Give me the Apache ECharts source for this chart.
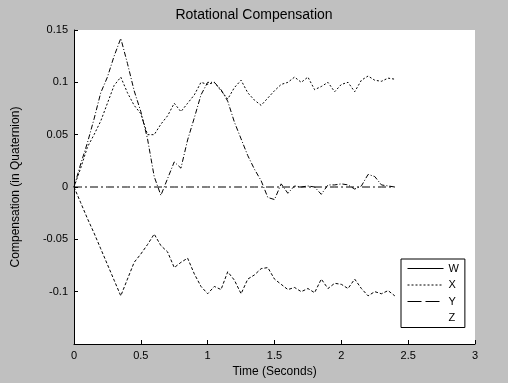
<!DOCTYPE html>
<html>
<head>
<meta charset="utf-8">
<script src="https://cdn.jsdelivr.net/npm/echarts@6/dist/echarts.min.js"></script>
<style>
html,body{margin:0;padding:0;background:#c0c0c0;}
#c{width:508px;height:383px;}
</style>
</head>
<body>
<div id="c"></div>
<script>
var time = [0,0.05,0.1,0.15,0.2,0.25,0.3,0.35,0.4,0.45,0.5,0.55,0.6,0.65,0.7,0.75,0.8,0.85,0.9,0.95,1.0,1.05,1.1,1.15,1.2,1.25,1.3,1.35,1.4,1.45,1.5,1.55,1.6,1.65,1.7,1.75,1.8,1.85,1.9,1.95,2.0,2.05,2.1,2.15,2.2,2.25,2.3,2.35,2.4];
var wValues = [0,0.022,0.042,0.065,0.09,0.105,0.125,0.142,0.118,0.092,0.072,0.046,0.01,-0.008,0.008,0.024,0.018,0.045,0.066,0.088,0.1,0.1,0.093,0.082,0.062,0.046,0.03,0.017,0.006,-0.01,-0.012,0.003,-0.006,0.001,0,0.001,0,-0.007,0.002,0.002,0.003,0.002,-0.002,0.001,0.012,0.01,0.002,0.001,0];
var xValues = [0,0.018,0.038,0.05,0.063,0.08,0.097,0.105,0.09,0.078,0.07,0.05,0.05,0.06,0.068,0.08,0.072,0.08,0.088,0.1,0.098,0.1,0.092,0.084,0.095,0.102,0.09,0.083,0.078,0.085,0.092,0.098,0.1,0.105,0.1,0.105,0.093,0.096,0.1,0.091,0.098,0.1,0.091,0.102,0.106,0.102,0.101,0.104,0.103];
var yValues = [0,-0.015,-0.03,-0.044,-0.059,-0.074,-0.089,-0.104,-0.088,-0.072,-0.064,-0.055,-0.045,-0.056,-0.062,-0.077,-0.072,-0.068,-0.083,-0.095,-0.102,-0.095,-0.098,-0.081,-0.089,-0.102,-0.088,-0.084,-0.078,-0.077,-0.088,-0.093,-0.098,-0.096,-0.1,-0.097,-0.101,-0.088,-0.097,-0.092,-0.093,-0.097,-0.088,-0.097,-0.104,-0.1,-0.102,-0.099,-0.104];
var zValues = [0,0,0,0,0,0,0,0,0,0,0,0,0,0,0,0,0,0,0,0,0,0,0,0,0,0,0,0,0,0,0,0,0,0,0,0,0,0,0,0,0,0,0,0,0,0,0,0,0];
var seriesNames = ['W','X','Y','Z'];
var titleText = 'Rotational Compensation';
var xAxisTitle = 'Time (Seconds)';
var yAxisTitle = 'Compensation (in Quaternion)';

function pairs(v){ return time.map(function(t,i){ return [t, v[i]]; }); }
var FONT = '"Liberation Sans", Arial, sans-serif';
var chart = echarts.init(document.getElementById('c'));
var lineStyles = [
  {color:'#000', width:1, type:[5,2,1,2]},
  {color:'#000', width:1, type:[2,2]},
  {color:'#000', width:1, type:[3,2]},
  {color:'#000', width:1, type:[8,3,2,3]}
];
var legendStyles = [
  {color:'#000', width:1, type:'solid'},
  {color:'#000', width:1, type:[2,2]},
  {color:'#000', width:1, type:[14,4]},
  {color:'#000', width:1, opacity:0}
];
var allValues = [wValues, xValues, yValues, zValues];
chart.setOption({
  backgroundColor:'#c0c0c0',
  animation:false,
  title:{text:titleText, left:'center', top:3, textStyle:{fontFamily:FONT, fontSize:14, fontWeight:'normal', color:'#000'}},
  grid:{left:74, right:33, top:30, bottom:38, show:true, backgroundColor:'#fff', borderWidth:0},
  legend:{
    orient:'vertical', left:401, top:259,
    padding:[4,6,4,6], itemWidth:36, itemHeight:12, itemGap:5.5,
    backgroundColor:'#fff', borderColor:'#000', borderWidth:1,
    textStyle:{fontFamily:FONT, fontSize:11, color:'#000'},
    data: seriesNames.map(function(n,i){ return {name:n, lineStyle:legendStyles[i], itemStyle:{opacity:0}}; })
  },
  xAxis:{type:'value', min:0, max:3, interval:0.5,
    name:xAxisTitle, nameLocation:'middle', nameGap:22,
    nameTextStyle:{fontFamily:FONT, fontSize:12, color:'#000'},
    axisLine:{onZero:false, lineStyle:{color:'#000'}}, axisTick:{inside:true, length:4, lineStyle:{color:'#000'}},
    axisLabel:{fontFamily:FONT, fontSize:11, color:'#000', margin:6},
    splitLine:{show:false}},
  yAxis:{type:'value', min:-0.15, max:0.15, interval:0.05,
    name:yAxisTitle, nameLocation:'middle', nameGap:52,
    nameTextStyle:{fontFamily:FONT, fontSize:12, color:'#000'},
    axisLine:{show:true, onZero:false, lineStyle:{color:'#000'}}, axisTick:{show:true, inside:true, length:4, lineStyle:{color:'#000'}},
    axisLabel:{fontFamily:FONT, fontSize:11, color:'#000', margin:6,
      formatter:function(v){ if (v < -0.14) return ''; return String(Math.round(v*100)/100); }},
    splitLine:{show:false}},
  series: seriesNames.map(function(n,i){
    return {name:n, type:'line', data:pairs(allValues[i]), symbol:'none', lineStyle:lineStyles[i], z:2+i};
  })
});
</script>
</body>
</html>
